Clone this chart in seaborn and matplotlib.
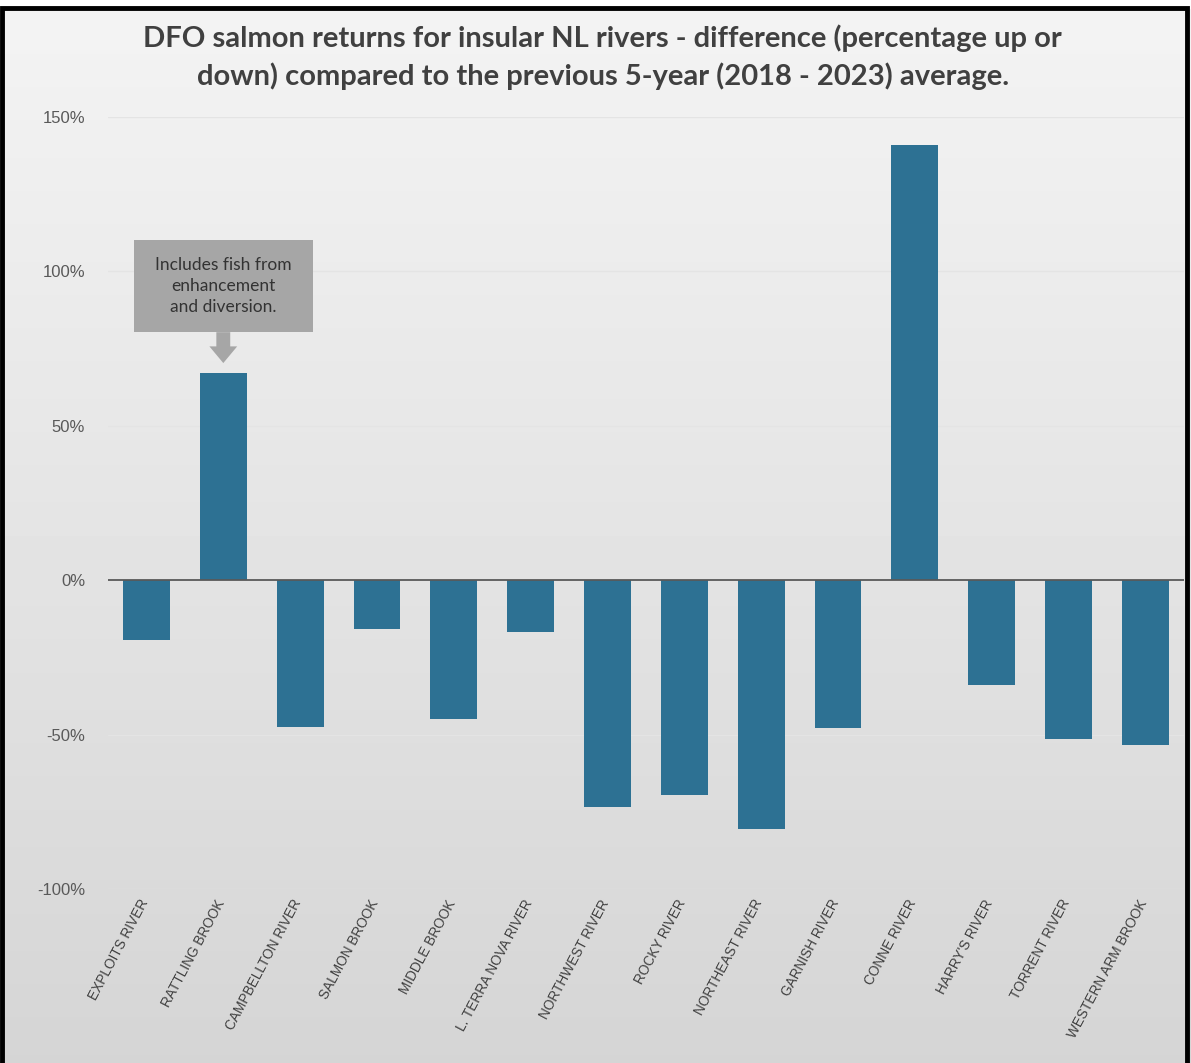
import matplotlib.pyplot as plt
import matplotlib.transforms as mtransforms
import numpy as np
import pandas as pd
import seaborn as sns
from matplotlib.patches import Rectangle
from matplotlib.ticker import FuncFormatter

rivers = [
    "EXPLOITS RIVER", "RATTLING BROOK", "CAMPBELLTON RIVER", "SALMON BROOK",
    "MIDDLE BROOK", "L. TERRA NOVA RIVER", "NORTHWEST RIVER", "ROCKY RIVER",
    "NORTHEAST RIVER", "GARNISH RIVER", "CONNE RIVER", "HARRY'S RIVER",
    "TORRENT RIVER", "WESTERN ARM BROOK",
]
pct_change = [-19.4, 67, -47.6, -15.9, -45, -16.8, -73.5, -69.6,
              -80.6, -47.9, 140.8, -34, -51.5, -53.4]

df = pd.DataFrame({'river': rivers, 'change': pct_change})

sns.set_style("white")
plt.rcParams['font.family'] = ['Liberation Sans', 'DejaVu Sans']

fig = plt.figure(figsize=(11.91, 10.63), dpi=100)

# gradient background
bg = fig.add_axes([0, 0, 1, 1], zorder=0)
grad = np.linspace(0.955, 0.835, 256).reshape(-1, 1)
bg.imshow(grad, cmap='gray', vmin=0, vmax=1, aspect='auto', extent=[0, 1, 0, 1])
bg.axis('off')
fig.patches.append(Rectangle((0, 0.9925), 1, 0.01, transform=fig.transFigure,
                             color='white', zorder=1))
fig.patches.append(Rectangle((0.002, -0.01), 0.995, 1.0025, transform=fig.transFigure,
                             fill=False, edgecolor='black', linewidth=3.5, zorder=2))

ax = fig.add_axes([0.0907, 0.1637, 0.9033, 0.7263], zorder=3)
ax.patch.set_alpha(0)

sns.barplot(df, x='river', y='change', color='#2d7193', width=0.61,
            saturation=1, linewidth=0, ax=ax, zorder=3)

ax.set_ylim(-100, 150)
ax.set_yticks([-100, -50, 0, 50, 100, 150])
ax.yaxis.set_major_formatter(FuncFormatter(lambda v, p: f"{v:.0f}%"))
for v in [-100, -50, 50, 100, 150]:
    ax.axhline(v, color='#e4e4e4', linewidth=1, zorder=1)
ax.axhline(0, color='#595959', linewidth=1.3, zorder=4)

ax.set_xlabel("")
ax.set_ylabel("")
ax.tick_params(axis='y', labelsize=12, labelcolor='#595959', pad=16.5, length=0)
ax.tick_params(axis='x', labelsize=9.8, labelcolor='#404040', length=0, pad=6)
shift = mtransforms.ScaledTranslation(-8 / 100, 0, fig.dpi_scale_trans)
for lab in ax.get_xticklabels():
    lab.set_rotation(62)
    lab.set_ha('right')
    lab.set_rotation_mode('anchor')
    lab.set_transform(lab.get_transform() + shift)
for s in ax.spines.values():
    s.set_visible(False)

# callout for Rattling Brook
ax.add_patch(Rectangle((-0.16, 80.3), 2.33, 29.7, facecolor='#a6a6a6',
                       edgecolor='none', zorder=5))
ax.text(1.0, 95.3, "Includes fish from\nenhancement\nand diversion.",
        ha='center', va='center', fontsize=12.5, color='#333333',
        family=['Lato', 'DejaVu Sans'], linespacing=1.38, zorder=6)
ax.annotate("", xy=(1.0, 70.3), xytext=(1.0, 80.3),
            arrowprops=dict(arrowstyle='simple,head_width=1.0,head_length=0.6,tail_width=0.5',
                            mutation_scale=20, color='#a6a6a6', lw=0,
                            shrinkA=0, shrinkB=0), zorder=5)

fig.text(0.506, 0.946,
         "DFO salmon returns for insular NL rivers - difference (percentage up or\n"
         "down) compared to the previous 5-year (2018 - 2023) average.",
         ha='center', va='center', fontsize=21, fontweight='bold', color='#404040',
         family=['Lato', 'DejaVu Sans'], linespacing=1.45, zorder=4)

fig.savefig("out.png", dpi=100)
